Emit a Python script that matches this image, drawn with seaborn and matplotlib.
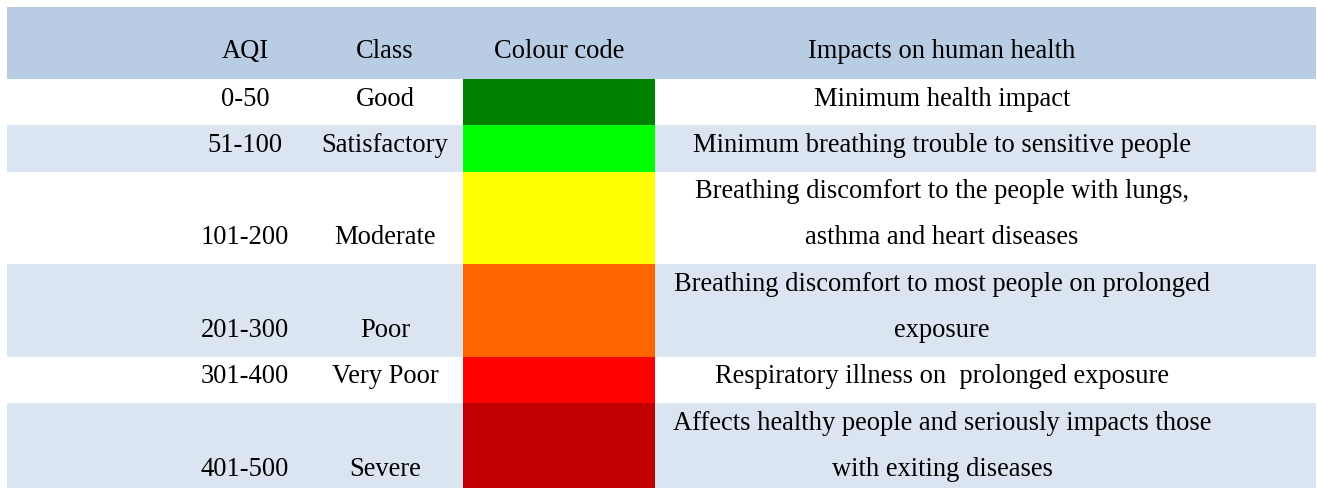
import matplotlib.pyplot as plt
import seaborn as sns

# table content
header = ["AQI", "Class", "Colour code", "Impacts on human health"]
aqi = ["0-50", "51-100", "101-200", "201-300", "301-400", "401-500"]
classes = ["Good", "Satisfactory", "Moderate", "Poor", "Very Poor", "Severe"]
colours = ["#008000", "#00FF00", "#FFFF00", "#FF6600", "#FF0000", "#C00000"]
impacts = [
    "Minimum health impact",
    "Minimum breathing trouble to sensitive people",
    "Breathing discomfort to the people with lungs,\nasthma and heart diseases",
    "Breathing discomfort to most people on prolonged\nexposure",
    "Respiratory illness on  prolonged exposure",
    "Affects healthy people and seriously impacts those\nwith exiting diseases",
]

sns.set_theme(style="white")
plt.rcParams['font.family'] = ['Liberation Serif', 'DejaVu Serif']

W, H = 1317, 489
fig = plt.figure(figsize=(W / 100, H / 100), dpi=100)
ax = fig.add_axes([0, 0, 1, 1])
ax.set_xlim(0, W)
ax.set_ylim(H, 0)
ax.axis("off")

left, right = 7, 1316
head_top, head_bot = 8, 80
line_h = 46.3
col_x = [245, 385, 559, 942]
sw_left, sw_right = 463, 655
fs = 19.1
txt_off = 19
header_bg = "#B8CCE4"
stripe_bg = "#DBE5F1"

# header band
ax.barh(y=(head_top + head_bot) / 2, width=right - left, height=head_bot - head_top,
        left=left, color=header_bg, linewidth=0)
for x, t in zip(col_x, header):
    ax.text(x, 52, t, ha="center", va="center", fontsize=fs, color="black")

y = head_bot
for i in range(len(aqi)):
    n = impacts[i].count("\n") + 1
    h = n * line_h
    if i % 2 == 1:
        ax.barh(y=y + h / 2, width=right - left, height=h, left=left,
                color=stripe_bg, linewidth=0)
    ax.barh(y=y + h / 2, width=sw_right - sw_left, height=h, left=sw_left,
            color=colours[i], linewidth=0)
    last = y + (n - 1) * line_h + txt_off
    ax.text(col_x[0], last, aqi[i], ha="center", va="center", fontsize=fs, color="black")
    ax.text(col_x[1], last, classes[i], ha="center", va="center", fontsize=fs, color="black")
    for k, ln in enumerate(impacts[i].split("\n")):
        ax.text(col_x[3], y + k * line_h + txt_off, ln, ha="center", va="center",
                fontsize=fs, color="black")
    y += h

fig.savefig("out.png", dpi=100)
